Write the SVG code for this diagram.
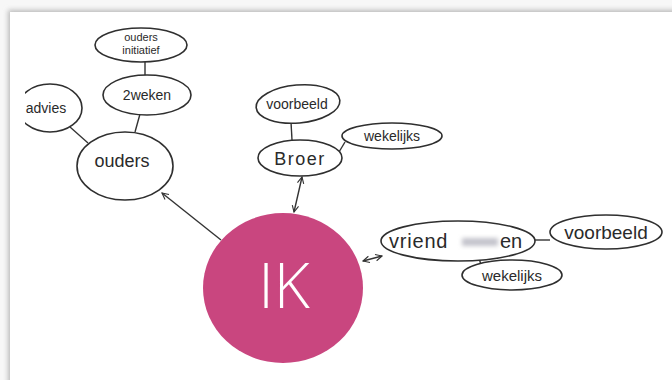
<svg xmlns="http://www.w3.org/2000/svg" width="672" height="380" viewBox="0 0 672 380">
<defs>
<style>
.n{fill:#fff;stroke:#2f2f2f;stroke-width:1.6}
.t{font-family:"Liberation Sans","DejaVu Sans",sans-serif;fill:#2a2a2a;text-anchor:middle}
.s{text-anchor:start}
.c{stroke:#333;stroke-width:1.4;fill:none}
</style>
<marker id="ah" viewBox="0 0 10 10" refX="9" refY="5" markerWidth="8" markerHeight="8" orient="auto-start-reverse" markerUnits="userSpaceOnUse">
<path d="M1,1 L9,5 L1,9" fill="none" stroke="#333" stroke-width="1.4"/>
</marker>
<filter id="sh" x="-5%" y="-5%" width="110%" height="110%"><feGaussianBlur stdDeviation="2.5"/></filter>
<filter id="bl" x="-50%" y="-50%" width="200%" height="200%"><feGaussianBlur stdDeviation="2.2"/></filter>
<clipPath id="pg"><rect x="25" y="27" width="647" height="353"/></clipPath>
</defs>
<rect width="672" height="380" fill="#f7f7f7"/>
<rect x="8" y="10" width="680" height="390" fill="#bbb" filter="url(#sh)"/>
<rect x="10" y="12" width="680" height="390" fill="#fff"/>
<g id="connectors">
<line class="c" x1="145" y1="62" x2="145" y2="75"/>
<line class="c" x1="140" y1="114" x2="135" y2="132"/>
<line class="c" x1="70" y1="127" x2="88" y2="143"/>
<line class="c" x1="221" y1="240" x2="162" y2="193" marker-end="url(#ah)"/>
<line class="c" x1="291" y1="122" x2="292" y2="140"/>
<line class="c" x1="339" y1="152" x2="345" y2="142"/>
<line class="c" x1="302" y1="177" x2="294" y2="212" marker-start="url(#ah)" marker-end="url(#ah)"/>
<line class="c" x1="363" y1="261" x2="382" y2="256" marker-start="url(#ah)" marker-end="url(#ah)"/>
<line class="c" x1="534" y1="240" x2="550" y2="240"/>
<line class="c" x1="479" y1="258" x2="481" y2="265"/>
</g>
<g clip-path="url(#pg)">
<g id="initiatief"><ellipse class="n" cx="141" cy="45" rx="46" ry="17"/>
<text class="t" x="141" y="41" font-size="11">ouders</text><text class="t" x="141" y="54" font-size="11">initiatief</text></g>
<g id="zweken"><ellipse class="n" cx="147" cy="95" rx="44" ry="20"/><text class="t" x="147" y="100" font-size="14">2weken</text></g>
<g id="advies"><ellipse class="n" cx="50" cy="108" rx="32" ry="24"/><text class="t" x="46" y="113" font-size="14">advies</text></g>
<g id="ouders"><ellipse class="n" cx="125" cy="166" rx="48" ry="34"/><text class="t" x="122" y="167" font-size="18">ouders</text></g>
</g>
<g id="voorbeeld1"><ellipse class="n" cx="298" cy="104" rx="42" ry="19" transform="rotate(-5 298 104)"/><text class="t" x="297" y="109" font-size="14">voorbeeld</text></g>
<g id="broer"><ellipse class="n" cx="300" cy="158" rx="42" ry="18"/><text class="t" x="300" y="165" font-size="18" letter-spacing="1.5">Broer</text></g>
<g id="wekelijks1"><ellipse class="n" cx="392" cy="136" rx="50" ry="13"/><text class="t" x="392" y="141" font-size="14">wekelijks</text></g>
<g id="vrienden"><ellipse class="n" cx="458" cy="241" rx="77" ry="20"/>
<text class="t s" x="389" y="248" font-size="20" letter-spacing="0.8">vriend</text>
<rect x="462" y="238" width="36" height="8" fill="#c4c4cc" filter="url(#bl)"/>
<text class="t s" x="500" y="248" font-size="20">en</text></g>
<g id="voorbeeld2"><ellipse class="n" cx="606" cy="232" rx="56" ry="17"/><text class="t" x="606" y="239" font-size="19">voorbeeld</text></g>
<g id="wekelijks2"><ellipse class="n" cx="512" cy="275" rx="50" ry="15"/><text class="t" x="512" y="281" font-size="15">wekelijks</text></g>
<g id="ik"><ellipse cx="283" cy="288" rx="80" ry="75" fill="#c9467f"/>
<text x="284" y="308" font-family="'Open Sans','Noto Sans',sans-serif" font-weight="300" font-size="62" fill="#fff" text-anchor="middle">IK</text></g>
</svg>
